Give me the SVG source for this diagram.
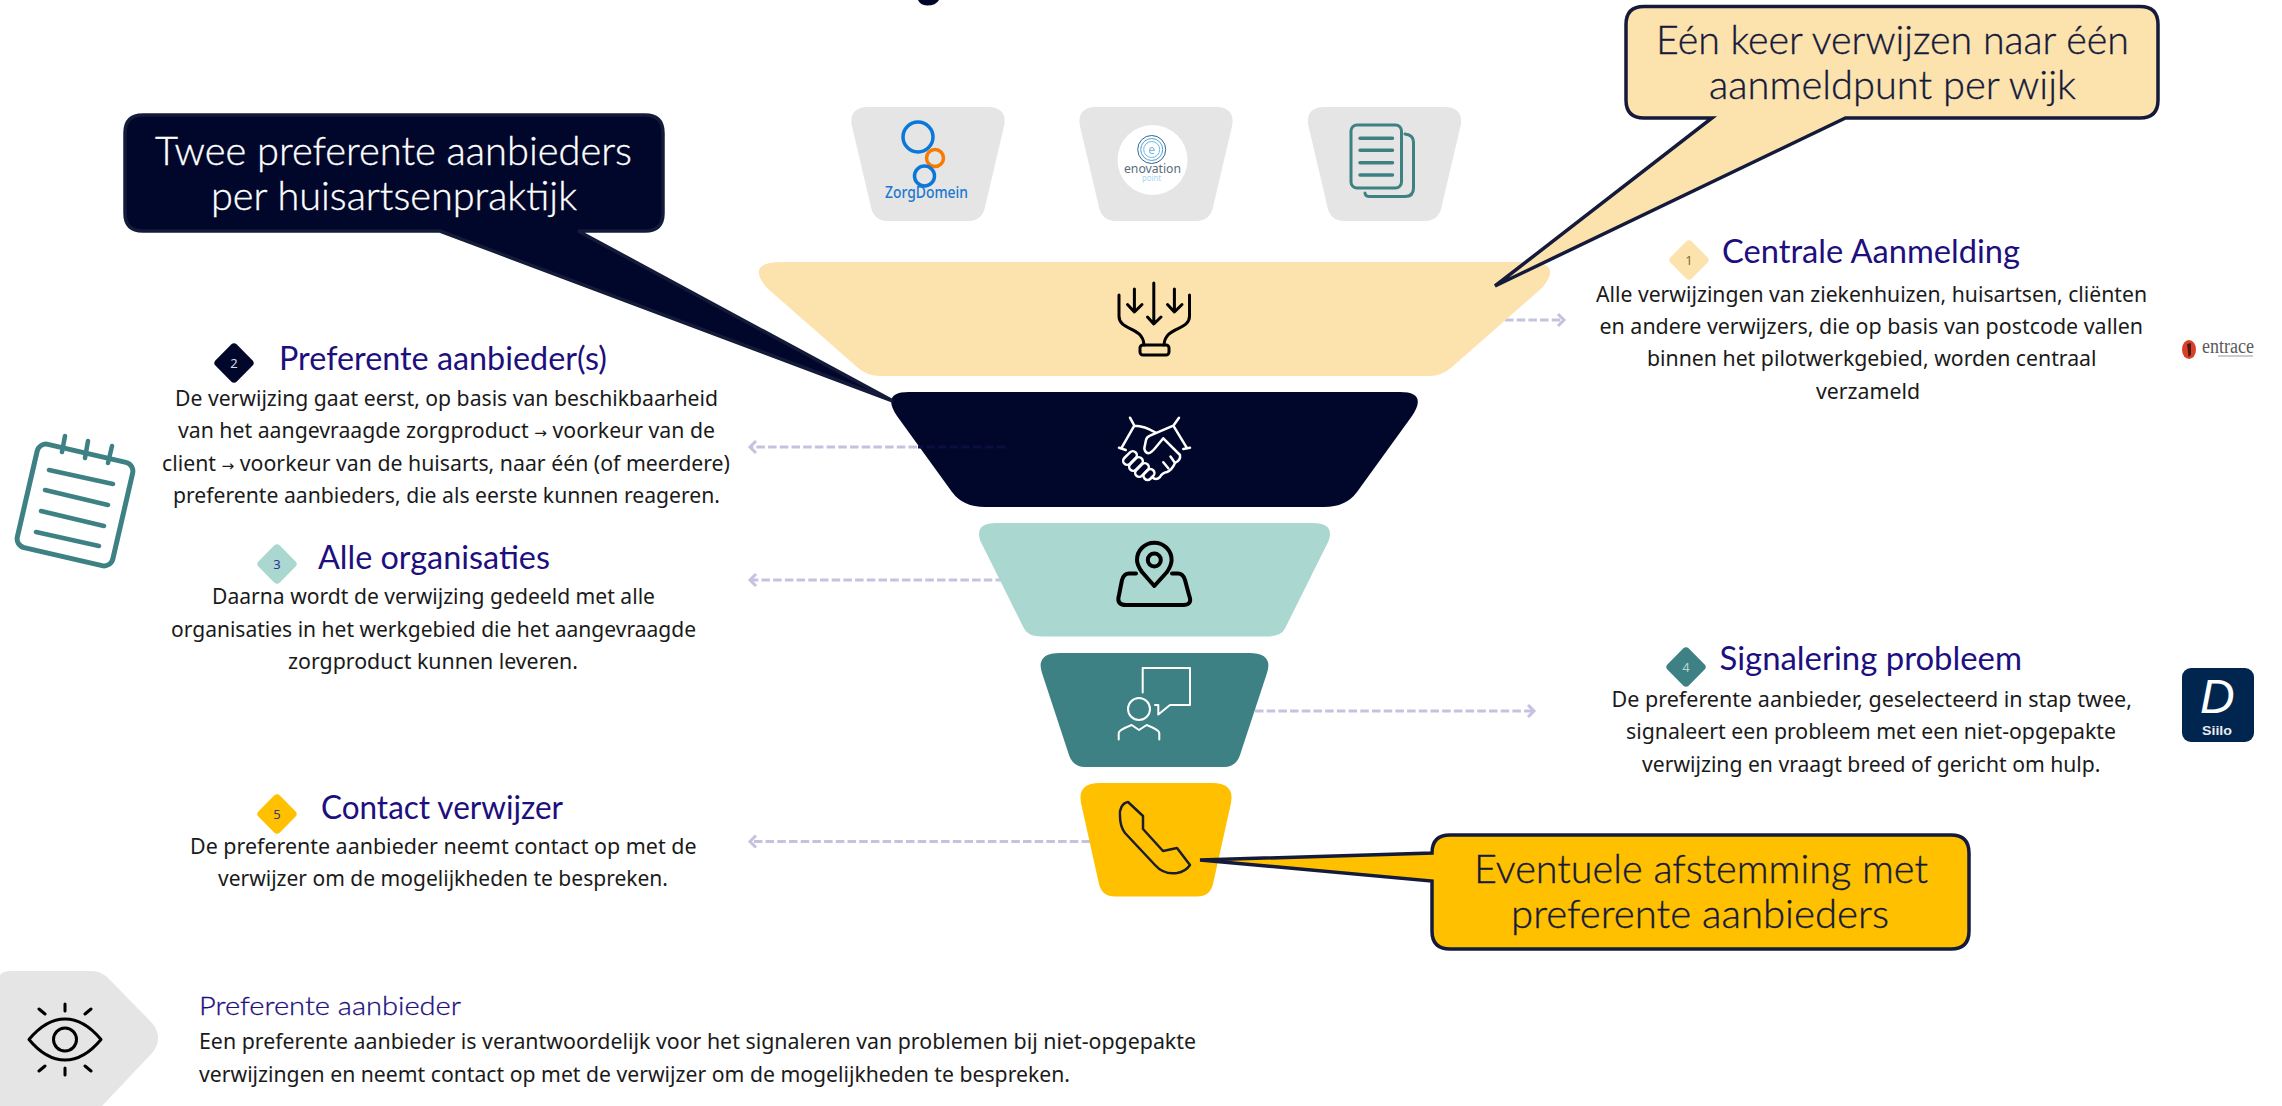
<svg xmlns="http://www.w3.org/2000/svg" width="2282" height="1106" viewBox="0 0 2282 1106">
<style>
text{font-family:"Noto Sans","Open Sans","DejaVu Sans",sans-serif}
.b{font-size:21px;fill:#1a1a1a}
.ar{font-size:15px}
.h{font-family:Lato,"Noto Sans",sans-serif;font-size:32px;fill:#1d0f7e}
.c{font-family:Lato,"Noto Sans",sans-serif;font-weight:300;font-size:39px;fill:#141a3a;stroke:#141a3a;stroke-width:.35px}
.cw{fill:#fff;stroke:#fff}
.n{font-size:13px;text-anchor:middle}
.dash{fill:none;stroke:#c7c1e0;stroke-width:3;stroke-dasharray:8.5 3.2;marker-end:url(#chev)}
.wi{fill:none;stroke:#fff;stroke-width:2.5;stroke-linecap:round;stroke-linejoin:round}
.ki{fill:none;stroke:#000;stroke-width:3;stroke-linecap:round;stroke-linejoin:round}
.ti{fill:none;stroke:#3d8184;stroke-linecap:round;stroke-linejoin:round}
.cb{stroke:#141a3a;stroke-width:3.5;stroke-linejoin:miter}
</style>
<defs>
<marker id="chev" markerUnits="userSpaceOnUse" markerWidth="12" markerHeight="16" refX="9" refY="8" orient="auto"><path d="M3 2L9 8L3 14" fill="none" stroke="#c7c1e0" stroke-width="3"/></marker>
<path id="tab" fill="#e5e5e5" d="M868 107H988Q1006 107 1004.500 124L985.500 205Q983 221 968 221H888Q873 221 870.500 205L851.500 124Q850 107 868 107Z"/>
<rect id="dia" x="-15" y="-15" width="30" height="30" rx="4" transform="rotate(45)"/>
</defs>
<rect width="2282" height="1106" fill="#fff"/>
<path id="title-fragment" d="M918 0H939Q936 5.500 927 5.500Q920 5 918 0Z" fill="#000829"/>

<g id="connectors">
<path class="dash" d="M1505 320H1564"/>
<path class="dash" d="M917 447H750"/>
<path class="dash" d="M1004 580H750"/>
<path class="dash" d="M1255 711H1534"/>
<path class="dash" d="M1090 841.500H750"/>
</g>

<g id="tab-zorgdomein"><use href="#tab"/>
<circle cx="918" cy="137" r="15" fill="none" stroke="#0a78d8" stroke-width="3.500"/>
<circle cx="935" cy="158" r="8.500" fill="none" stroke="#f57c00" stroke-width="3.500"/>
<circle cx="924.500" cy="176" r="10" fill="none" stroke="#0a78d8" stroke-width="3.500"/>
<text x="885" y="198" textLength="83" lengthAdjust="spacingAndGlyphs" font-size="17" font-weight="500" fill="#1a78d0">ZorgDomein</text></g>

<g id="tab-enovation"><use href="#tab" x="228"/>
<circle cx="1152.500" cy="160" r="35" fill="#fff"/>
<g fill="none" stroke-width="1"><circle cx="1151.700" cy="149.500" r="14" stroke="#35638f"/><circle cx="1151.700" cy="149.500" r="11" stroke="#4aa3d8"/><circle cx="1151.700" cy="149.500" r="8" stroke="#6fb9e2"/></g>
<text x="1151.700" y="153.500" text-anchor="middle" font-size="12" fill="#6fb9e2">e</text>
<text x="1124" y="172.500" textLength="57" lengthAdjust="spacingAndGlyphs" font-size="13" fill="#5a6b7a">enovation</text>
<text x="1142" y="181" textLength="19" lengthAdjust="spacingAndGlyphs" font-size="8.500" fill="#a5d8ef">point</text></g>

<g id="tab-documents"><use href="#tab" x="456.500"/>
<rect class="ti" stroke-width="3" x="1351" y="125" width="50.500" height="63" rx="6"/>
<path class="ti" stroke-width="3" d="M1405 134Q1413.500 135 1413.500 142V188Q1413.500 196.500 1405 196.500H1370Q1365 196.500 1365 193"/>
<path class="ti" stroke-width="3.500" d="M1360 138.300H1392.500M1360 150.300H1392.500M1360 162.700H1392.500M1360 175H1392.500"/></g>

<g id="funnel-1">
<path fill="#fce3ae" d="M782 262H1527Q1564 262 1542 288L1452 367Q1442 376 1429 376H880Q867 376 857 367L767 288Q745 262 782 262Z"/>
<g class="ki"><path d="M1153.800 283V323M1147.500 317L1153.800 324L1161 317M1134.400 289V311M1127.500 304.500L1134.400 312L1142 304.500M1174.400 289V311M1167.500 304.500L1174.400 312L1182 304.500"/>
<path d="M1119 295V316C1119 331 1143 326 1144 345M1189.500 295V316C1189.500 331 1165 326 1164 345"/><rect x="1140" y="345" width="29" height="10" rx="3"/></g></g>

<g id="funnel-2">
<path fill="#00072a" d="M909 392H1400Q1428 392 1412 416L1357 492Q1346 507 1324 507H985Q963 507 952 492L897 416Q881 392 909 392Z"/>
<g class="wi"><path d="M1130 417.700L1134.300 425.700L1121.700 447.700M1119 447.700L1125.700 450M1179 417.700L1173.300 425.700L1186.700 447.700M1190 447.700L1183.300 449M1134.300 425.700Q1145 426 1155 432.300M1173.300 425.700L1150 435.700Q1146.700 437 1146 440L1144.300 448.300Q1145 453 1148.300 453.300Q1151 453 1155 448.300L1163.300 438.300L1180 455Q1181 460 1175 463Q1172 470 1167 472Q1162 473 1160 477Q1156 481 1152 477M1163.300 462.300L1168.300 468.300M1170.500 456.500L1175 463"/>
<rect x="-8" y="-4" width="16" height="8" rx="4" transform="translate(1130 458) rotate(-45)"/><rect x="-8" y="-4" width="16" height="8" rx="4" transform="translate(1136 464) rotate(-45)"/><rect x="-8" y="-4" width="16" height="8" rx="4" transform="translate(1142 470) rotate(-45)"/><rect x="-6" y="-4" width="12" height="8" rx="4" transform="translate(1149 474.500) rotate(-45)"/></g>
<path class="dash" style="stroke:#0e0c40;marker-end:none" d="M1005 447H918"/></g>

<g id="funnel-3">
<path fill="#aad7cf" d="M996.500 523H1312.500Q1335 523 1328.600 541L1285 628.500Q1281 636.500 1267 636.500H1042Q1028 636.500 1024 628.500L980.400 541Q974 523 996.500 523Z"/>
<g class="ki" style="stroke-width:4"><path d="M1154.300 586L1142 572Q1137 565 1137 560A17.300 17.300 0 1 1 1171.600 560Q1171.600 565 1167 572Z"/><circle cx="1154.300" cy="560" r="6.500"/><path d="M1136 573.500H1129Q1124 573.500 1122 580L1119 595Q1116 605 1126 605H1183Q1193 605 1189 595L1185 580Q1183 573.500 1178 573.500H1172"/></g></g>

<g id="funnel-4">
<path fill="#3d8184" d="M1060 653H1249Q1273.500 653 1267 673L1240 755Q1236 767 1224 767H1085Q1073 767 1069 755L1042 673Q1035.500 653 1060 653Z"/>
<g class="wi" style="stroke-width:2"><path d="M1142.700 692.500V668H1190V705H1170L1158.300 714.500V705H1155"/><circle cx="1139" cy="709" r="11"/><path d="M1118.700 739.500V733Q1118.700 730 1131.700 725L1139 730L1146.700 725Q1159.300 730 1159.300 733V739.500"/></g></g>

<g id="funnel-5">
<path fill="#ffc000" d="M1100 783H1212Q1235 783 1231 803L1213 884Q1210 896.500 1197 896.500H1115Q1102 896.500 1099 884L1081 803Q1077 783 1100 783Z"/>
<path fill="none" stroke="#1d1d30" stroke-width="2.500" stroke-linejoin="round" d="M1128 802C1122 803 1119 810 1120 816C1120 824 1122 829 1125 833L1155 865C1162 873 1170 874 1177 873C1183 872 1188 868 1190 865L1177 848L1163 851L1143 829L1143 816Z"/></g>

<g id="callout-preferent">
<path class="cb" fill="#00072a" d="M143 115H645Q663 115 663 133V213Q663 231 645 231H578L893 401L440 231H143Q125 231 125 213V133Q125 115 143 115Z"/>
<text class="c cw" x="155" y="165" textLength="477" lengthAdjust="spacingAndGlyphs">Twee preferente aanbieders</text>
<text class="c cw" x="211" y="210" textLength="366" lengthAdjust="spacingAndGlyphs">per huisartsenpraktijk</text></g>

<g id="callout-aanmeldpunt">
<path class="cb" fill="#fce3ae" d="M1644 6.500H2140Q2158 6.500 2158 24.500V100Q2158 118 2140 118H1845.500L1495 286L1712 118H1644Q1626 118 1626 100V24.500Q1626 6.500 1644 6.500Z"/>
<text class="c" x="1656" y="54" textLength="473" lengthAdjust="spacingAndGlyphs">Eén keer verwijzen naar één</text>
<text class="c" x="1709" y="99" textLength="367" lengthAdjust="spacingAndGlyphs">aanmeldpunt per wijk</text></g>

<g id="callout-afstemming">
<path class="cb" fill="#ffc000" d="M1450 835H1951Q1969 835 1969 853V931Q1969 949 1951 949H1450Q1432 949 1432 931V881L1200 860L1432 853Q1432 835 1450 835Z"/>
<text class="c" x="1474" y="883" textLength="454" lengthAdjust="spacingAndGlyphs">Eventuele afstemming met</text>
<text class="c" x="1511" y="928" textLength="378" lengthAdjust="spacingAndGlyphs">preferente aanbieders</text></g>

<g id="step-1">
<use href="#dia" transform="translate(1689 260)" fill="#fce3ae"/><text class="n" x="1689" y="265" fill="#7a6a45">1</text>
<text class="h" x="1722" y="263" textLength="298" lengthAdjust="spacingAndGlyphs">Centrale Aanmelding</text>
<text class="b" x="1596" y="301.500" textLength="551" lengthAdjust="spacingAndGlyphs">Alle verwijzingen van ziekenhuizen, huisartsen, cliënten</text>
<text class="b" x="1599.500" y="334" textLength="543.500" lengthAdjust="spacingAndGlyphs">en andere verwijzers, die op basis van postcode vallen</text>
<text class="b" x="1647" y="366" textLength="449.500" lengthAdjust="spacingAndGlyphs">binnen het pilotwerkgebied, worden centraal</text>
<text class="b" x="1816" y="398.500" textLength="104" lengthAdjust="spacingAndGlyphs">verzameld</text></g>

<g id="logo-entrace">
<ellipse cx="2189" cy="349.500" rx="7" ry="9.500" fill="#d8402a"/><path d="M2187 344L2191 343V355L2188.500 357Z" fill="#4a1a12"/>
<text x="2202" y="352.700" textLength="52" lengthAdjust="spacingAndGlyphs" font-size="20" fill="#5a5a5a" style="font-family:'Liberation Serif',serif">entrace</text>
<path d="M2218 356H2253" stroke="#bbb" stroke-width="1.500"/></g>

<g id="step-2">
<use href="#dia" transform="translate(234 363)" fill="#00072a"/><text class="n" x="234" y="368" fill="#d8d8e8">2</text>
<text class="h" x="279" y="370" textLength="328" lengthAdjust="spacingAndGlyphs">Preferente aanbieder(s)</text>
<text class="b" x="175" y="405.500" textLength="543" lengthAdjust="spacingAndGlyphs">De verwijzing gaat eerst, op basis van beschikbaarheid</text>
<text class="b" x="178" y="438" textLength="537" lengthAdjust="spacingAndGlyphs">van het aangevraagde zorgproduct <tspan class="ar">→</tspan> voorkeur van de</text>
<text class="b" x="162" y="471" textLength="568" lengthAdjust="spacingAndGlyphs">client <tspan class="ar">→</tspan> voorkeur van de huisarts, naar één (of meerdere)</text>
<text class="b" x="173" y="503" textLength="547" lengthAdjust="spacingAndGlyphs">preferente aanbieders, die als eerste kunnen reageren.</text></g>

<g id="icon-notepad" class="ti">
<rect x="-49" y="-53" width="98" height="106" rx="9" stroke-width="5" transform="translate(75 505) rotate(13)"/>
<path stroke-width="4.500" d="M65 436L62 452M88 441L85 458M112 446L108 463M49 470L113 484M45 490L108 505M41 511L104 526M36 532L99 546"/></g>

<g id="step-3">
<use href="#dia" transform="translate(277 564)" fill="#aad7cf"/><text class="n" x="277" y="569" fill="#2f2f9a">3</text>
<text class="h" x="318" y="569" textLength="232" lengthAdjust="spacingAndGlyphs">Alle organisaties</text>
<text class="b" x="212" y="604" textLength="443" lengthAdjust="spacingAndGlyphs">Daarna wordt de verwijzing gedeeld met alle</text>
<text class="b" x="171" y="636.500" textLength="525" lengthAdjust="spacingAndGlyphs">organisaties in het werkgebied die het aangevraagde</text>
<text class="b" x="288" y="669" textLength="290" lengthAdjust="spacingAndGlyphs">zorgproduct kunnen leveren.</text></g>

<g id="step-4">
<use href="#dia" transform="translate(1686 667)" fill="#3d8184"/><text class="n" x="1686" y="672" fill="#b8d4d4">4</text>
<text class="h" x="1719.500" y="670" textLength="302.500" lengthAdjust="spacingAndGlyphs">Signalering probleem</text>
<text class="b" x="1611.500" y="707" textLength="520.500" lengthAdjust="spacingAndGlyphs">De preferente aanbieder, geselecteerd in stap twee,</text>
<text class="b" x="1626" y="739" textLength="490" lengthAdjust="spacingAndGlyphs">signaleert een probleem met een niet-opgepakte</text>
<text class="b" x="1642" y="772" textLength="458.500" lengthAdjust="spacingAndGlyphs">verwijzing en vraagt breed of gericht om hulp.</text></g>

<g id="logo-siilo">
<rect x="2182" y="668" width="72" height="74" rx="9" fill="#00264f"/>
<text x="2200" y="713" font-size="48" font-style="italic" fill="#fff" style="font-family:'Liberation Sans',sans-serif">D</text>
<text x="2202" y="735" textLength="30" lengthAdjust="spacingAndGlyphs" font-size="13" font-weight="700" fill="#e8edf2" style="font-family:'Liberation Sans',sans-serif">Siilo</text></g>

<g id="step-5">
<use href="#dia" transform="translate(277 814)" fill="#ffc000"/><text class="n" x="277" y="819" fill="#3d3270">5</text>
<text class="h" x="321" y="819" textLength="242" lengthAdjust="spacingAndGlyphs">Contact verwijzer</text>
<text class="b" x="190" y="853.500" textLength="506.500" lengthAdjust="spacingAndGlyphs">De preferente aanbieder neemt contact op met de</text>
<text class="b" x="218" y="886" textLength="450" lengthAdjust="spacingAndGlyphs">verwijzer om de mogelijkheden te bespreken.</text></g>

<g id="legend">
<path fill="#e5e5e5" d="M0 975Q2 971 12 971H92Q100 971 107 977L153 1024Q163 1038 153 1052L102 1106H0Z"/>
<g class="ki"><path d="M29 1039.500Q46 1019 65 1019Q84 1019 101 1039.500Q84 1060 65 1060Q46 1060 29 1039.500Z"/><circle cx="65" cy="1039.500" r="11.500"/><path d="M65 1004V1011M65 1068V1075M39 1009L45 1014M91 1009L85 1014M45 1066L39 1071M85 1066L91 1071"/></g>
<text class="h" style="font-size:26px;font-weight:300;stroke:#1d0f7e;stroke-width:.3px" x="199" y="1015" textLength="262" lengthAdjust="spacingAndGlyphs">Preferente aanbieder</text>
<text class="b" x="199" y="1049" textLength="997" lengthAdjust="spacingAndGlyphs">Een preferente aanbieder is verantwoordelijk voor het signaleren van problemen bij niet-opgepakte</text>
<text class="b" x="199" y="1081.500" textLength="871" lengthAdjust="spacingAndGlyphs">verwijzingen en neemt contact op met de verwijzer om de mogelijkheden te bespreken.</text></g>
</svg>
